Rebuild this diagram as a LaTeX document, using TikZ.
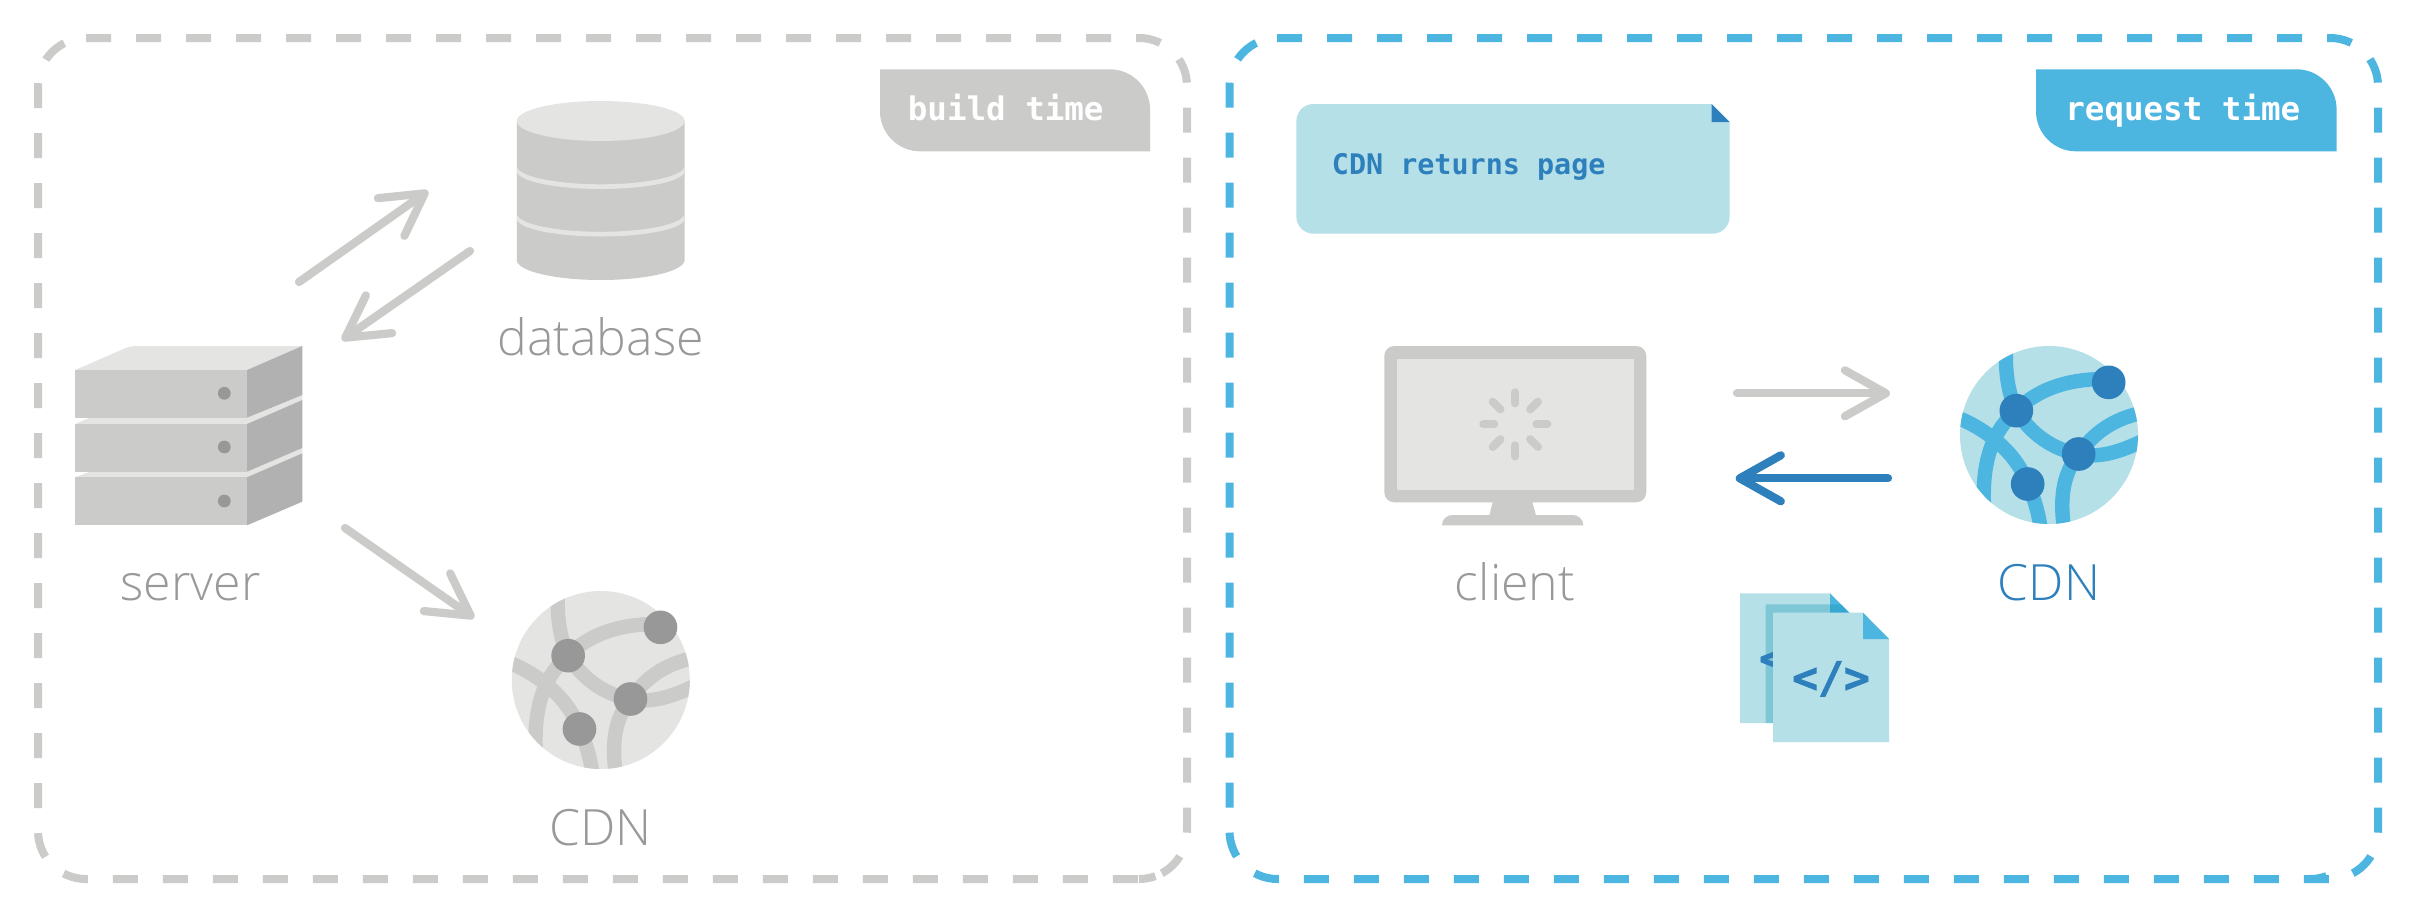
\documentclass[tikz,border=0pt]{standalone}
\usepackage{fontspec}
\setmainfont{Open Sans}
\newfontfamily\lightfont{Open Sans Light}
\newfontfamily\monob{DejaVu Sans Mono Bold}
\newfontfamily\monoc[FakeBold=1.6]{DejaVu Sans Mono Bold}
\usetikzlibrary{arrows.meta,calc}
\definecolor{gmid}{HTML}{CBCBC9}
\definecolor{glight}{HTML}{E4E4E3}
\definecolor{gside}{HTML}{B1B1B1}
\definecolor{gdot}{HTML}{989898}
\definecolor{gtext}{HTML}{999999}
\definecolor{bmid}{HTML}{4DB6E0}
\definecolor{blight}{HTML}{B5E0E8}
\definecolor{bdark}{HTML}{2E80BD}
\definecolor{docshadow}{RGB}{4,140,175}
\tikzset{
  panel/.style={line width=4pt,dash pattern=on 12.5pt off 12.5pt,rounded corners=24pt},
  lbl/.style={font=\lightfont\fontsize{25}{30}\selectfont,anchor=base,inner sep=0pt,text=gtext},
  tagtext/.style={font=\monob\fontsize{16.25}{20}\selectfont,anchor=base west,inner sep=0pt,text=white},
  code/.style={anchor=base,inner sep=0pt,text=bdark,font=\monoc\fontsize{21.5}{26}\selectfont},
  conn/.style={line width=4.1pt,line cap=round,line join=round,-{Straight Barb[length=20.5pt,width=23pt,round]}},
  net/.style={line width=7.2pt}
}
\newcommand{\cdnicon}[5]{%
  \begin{scope}[shift={(#1-109,#2-105)},x=0.16667pt,y=-0.16667pt]
    \fill[#3] (327,315) circle [radius=267];
    \begin{scope}
      \clip (327,315) circle [radius=267];
      \draw[net,#4] (198,50) .. controls (195,130) and (205,190) .. (229,242);
      \draw[net,#4] (229,242) .. controls (300,170) and (400,145) .. (506,147);
      \draw[net,#4] (229,242) .. controls (270,310) and (340,360) .. (416,372);
      \draw[net,#4] (229,242) .. controls (160,300) and (125,390) .. (132,530);
      \draw[net,#4] (40,258) .. controls (140,295) and (230,370) .. (263,462) .. controls (280,500) and (295,540) .. (304,610);
      \draw[net,#4] (610,248) .. controls (520,265) and (460,310) .. (416,372) .. controls (375,425) and (355,490) .. (374,610);
      \draw[net,#4] (416,372) .. controls (480,385) and (540,365) .. (610,332);
    \end{scope}
    \fill[#5] (229,242) circle [radius=50.5];
    \fill[#5] (506,157) circle [radius=50.5];
    \fill[#5] (416,372) circle [radius=50.5];
    \fill[#5] (263,462) circle [radius=50.5];
  \end{scope}}
\begin{document}
\begin{tikzpicture}[x=0.5pt,y=-0.5pt]
\useasboundingbox (0,0) rectangle (2416,916);
\fill[white] (0,0) rectangle (2416,916);
% panels
\draw[panel,gmid] (86,38) -- (1187,38) -- (1187,879) -- (38,879) -- (38,38) -- (86,38);
\draw[line width=4pt,gmid] (1155.4,876.1) .. controls (1150,878) and (1145,879) .. (1139,879);
\draw[panel,bmid] (1277,38) -- (2378,38) -- (2378,879) -- (1229.5,879) -- (1229.5,38) -- (1277,38);
\draw[line width=4pt,bmid] (2326.4,876.1) .. controls (2321,878) and (2316,879) .. (2310,879);
% tags
\fill[gmid] (880,69.3) -- (1110,69.3) .. controls (1132,69.3) and (1150,87.3) .. (1150,109.3) -- (1150,151.3) -- (920,151.3) .. controls (898,151.3) and (880,133.3) .. (880,111.3) -- cycle;
\node[tagtext] (buildtag) at (907.5,120.7) {build time};
\fill[bmid] (2036,69.3) -- (2296.6,69.3) .. controls (2318.6,69.3) and (2336.6,87.3) .. (2336.6,109.3) -- (2336.6,151.3) -- (2076,151.3) .. controls (2054,151.3) and (2036,133.3) .. (2036,111.3) -- cycle;
\node[tagtext] (reqtag) at (2065,120.7) {request time};
% note
\fill[blight] (1313.4,104) -- (1711.7,104) -- (1729.6,122) -- (1729.6,216.7) .. controls (1729.6,226) and (1722,233.7) .. (1712.6,233.7) -- (1313.4,233.7) .. controls (1304,233.7) and (1296.4,226) .. (1296.4,216.7) -- (1296.4,121) .. controls (1296.4,111.6) and (1304,104) .. (1313.4,104) -- cycle;
\fill[bdark] (1711.7,104) -- (1729.6,122) -- (1711.7,122) -- cycle;
\node[tagtext,text=bdark,font=\monob\fontsize{14.2}{18}\selectfont] (note) at (1331.5,174) {CDN returns page};
% database
\fill[gmid] (516.8,121) -- (516.8,260) arc[start angle=180,end angle=0,x radius=83.9,y radius=20] -- (684.6,121) -- cycle;
\fill[glight] (600.7,121) ellipse [x radius=83.9,y radius=20];
\fill[glight] (516.8,166) arc[start angle=180,end angle=0,x radius=83.9,y radius=18.3] -- (684.6,171) arc[start angle=0,end angle=180,x radius=83.9,y radius=18] -- cycle;
\fill[glight] (516.8,213.5) arc[start angle=180,end angle=0,x radius=83.9,y radius=18.3] -- (684.6,218.5) arc[start angle=0,end angle=180,x radius=83.9,y radius=18] -- cycle;
\node[lbl] (database) at (600.5,355) {database};
% server
\fill[glight] (75.3,370) -- (125,348.3) .. controls (129,346.7) and (133,346) .. (136.7,346) -- (302.3,346) -- (247,370) -- cycle;
\fill[glight] (75.3,424) -- (90,417.7) -- (247,417.7) -- (302.3,395) -- (302.3,400) -- (247,424) -- cycle;
\fill[glight] (75.3,477.3) -- (90,471.7) -- (247,471.7) -- (302.3,448) -- (302.3,453.3) -- (247,477.3) -- cycle;
\fill[gmid] (75.3,370) rectangle (247,417.7);
\fill[gmid] (75.3,424) rectangle (247,471.7);
\fill[gmid] (75.3,477.3) rectangle (247,525.3);
\fill[gside] (247,370) -- (302.3,346) -- (302.3,395) -- (247,417.7) -- cycle;
\fill[gside] (247,424) -- (302.3,400) -- (302.3,448) -- (247,471.7) -- cycle;
\fill[gside] (247,477.3) -- (302.3,453.3) -- (302.3,501.7) -- (247,525.3) -- cycle;
\fill[gdot] (224.3,393.3) circle [radius=6.4];
\fill[gdot] (224.3,447) circle [radius=6.4];
\fill[gdot] (224.3,501) circle [radius=6.4];
\node[lbl] (server) at (190.5,600) {server};
% CDN left
\cdnicon{600.8}{680}{glight}{gmid}{gdot}
\node[lbl] (cdnleft) at (600.5,845) {CDN};
% client
\fill[gmid,rounded corners=5pt] (1384.3,346) rectangle (1646.3,502.3);
\fill[glight] (1396.7,358.7) rectangle (1634,490);
\fill[gmid] (1492.7,502) -- (1489.3,515.5) -- (1536,515.5) -- (1532.3,502) -- cycle;
\fill[gmid] (1442,525.3) .. controls (1442,519.5) and (1446.6,515) .. (1452.3,515) -- (1573,515) .. controls (1578.7,515) and (1583.3,519.5) .. (1583.3,525.3) -- cycle;
\foreach \a in {0,45,...,315}{
  \draw[line width=4pt,line cap=round,gmid] ($(1515.3,424.3)+(\a:21)$) -- ($(1515.3,424.3)+(\a:32)$);
}
\node[lbl] (client) at (1515,600) {client};
% CDN right
\cdnicon{2049}{435}{blight}{bmid}{bdark}
\node[lbl,text=bdark] (cdnright) at (2049,600) {CDN};
% documents
\fill[blight] (1740,593.3) -- (1830,593.3) -- (1856,619.3) -- (1856,723) -- (1740,723) -- cycle;
\fill[bmid] (1830,593.3) -- (1856,619.3) -- (1830,619.3) -- cycle;
\begin{scope}
  \clip (1740,593.3) -- (1830,593.3) -- (1856,619.3) -- (1856,723) -- (1740,723) -- cycle;
  \fill[docshadow,opacity=0.3] (1765.7,604.3) -- (1855.7,604.3) -- (1881.7,630.3) -- (1881.7,733.6) -- (1765.7,733.6) -- cycle;
\end{scope}
\node[code] (backcode) at (1772,673) {<};
\fill[blight] (1773,612.7) -- (1863,612.7) -- (1889,639) -- (1889,742) -- (1773,742) -- cycle;
\fill[bmid] (1863,612.7) -- (1889,639) -- (1863,639) -- cycle;
\node[code] (frontcode) at (1831,692.5) {</>};
% connectors
\coordinate (a1s) at (299,282); \coordinate (a1e) at (428,191);
\coordinate (a2s) at (470,251); \coordinate (a2e) at (342,340);
\coordinate (a3s) at (345,528); \coordinate (a3e) at (474,618);
\coordinate (a4s) at (1737,393.3); \coordinate (a4e) at (1890,393.3);
\coordinate (a5s) at (1888,478.3); \coordinate (a5e) at (1735.7,478.3);
\draw[conn,gmid] (a1s) -- (a1e);
\draw[conn,gmid] (a2s) -- (a2e);
\draw[conn,gmid] (a3s) -- (a3e);
\draw[conn,gmid] (a4s) -- (a4e);
\draw[conn,bdark] (a5s) -- (a5e);
\end{tikzpicture}
\end{document}
